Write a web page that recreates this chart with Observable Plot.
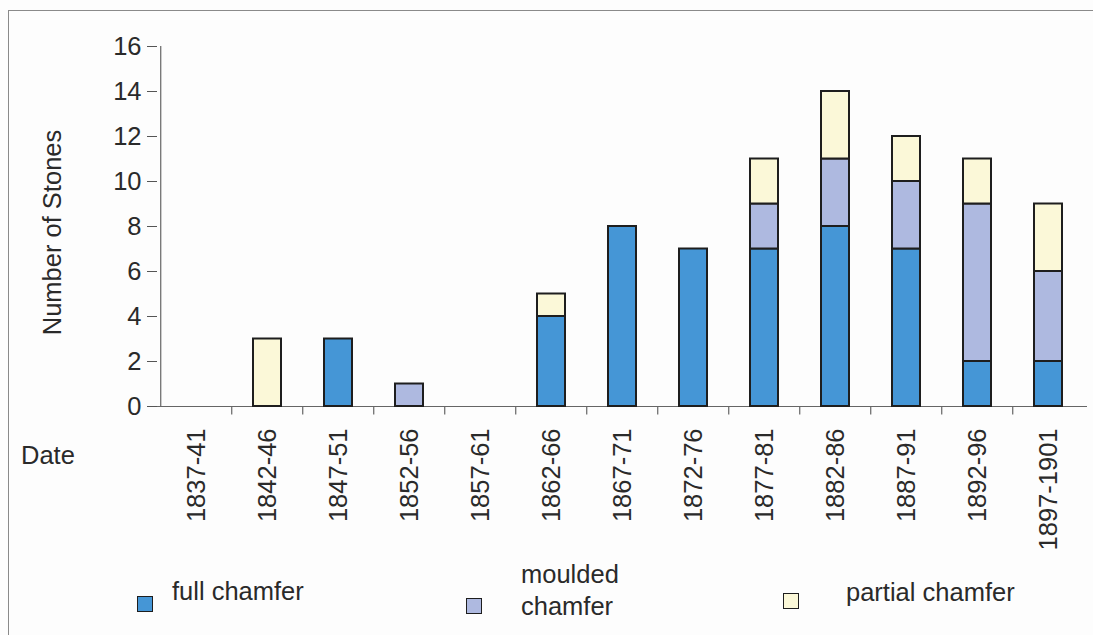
<!DOCTYPE html>
<html>
<head>
<meta charset="utf-8">
<script src="https://cdn.jsdelivr.net/npm/d3@7"></script>
<script src="https://cdn.jsdelivr.net/npm/@observablehq/plot@0.6"></script>
<style>
  html, body { margin: 0; padding: 0; background: #fdfdfd; }
  #wrap { position: relative; width: 1093px; height: 635px; font-family: "Liberation Sans", Arial, sans-serif; color: #2a2a2a; overflow: hidden; }
  #border { position: absolute; left: 8px; top: 10px; width: 1100px; height: 700px; border-left: 1.5px solid #8a8a8a; border-top: 1.5px solid #8a8a8a; }
  #chart { position: absolute; left: 0; top: 0; }
  .lbl { position: absolute; font-size: 25.5px; line-height: 1; white-space: nowrap; }
  .sw { position: absolute; width: 14px; height: 14px; border: 1.5px solid #1e1e1e; }
</style>
</head>
<body>
<div id="wrap">
  <div id="border"></div>
  <div id="chart"></div>
  <div class="lbl" style="left:21px; top:443px;">Date</div>
  <div id="legend"></div>
</div>
<script>
const periods = ["1837-41","1842-46","1847-51","1852-56","1857-61","1862-66","1867-71","1872-76","1877-81","1882-86","1887-91","1892-96","1897-1901"];
const fullChamfer    = [0, 0, 3, 0, 0, 4, 8, 7, 7, 8, 7, 2, 2];
const mouldedChamfer = [0, 0, 0, 1, 0, 0, 0, 0, 2, 3, 3, 7, 4];
const partialChamfer = [0, 3, 0, 0, 0, 1, 0, 0, 2, 3, 2, 2, 3];
const seriesNames  = ["full chamfer", "moulded chamfer", "partial chamfer"];
const seriesColors = ["#4596d6", "#aeb9e0", "#fbf8d8"];
const yTicks = [0, 2, 4, 6, 8, 10, 12, 14, 16];

const seriesValues = [fullChamfer, mouldedChamfer, partialChamfer];
const rows = [];
periods.forEach((p, i) => {
  seriesNames.forEach((s, k) => {
    if (seriesValues[k][i] > 0) rows.push({period: p, type: s, count: seriesValues[k][i]});
  });
});

const W = 1093, H = 562;
const mL = 157, mR = 6, mT = 46, mB = 156;
const step = (W - mL - mR) / periods.length;

const plot = Plot.plot({
  width: W,
  height: H,
  marginLeft: mL,
  marginRight: mR,
  marginTop: mT,
  marginBottom: mB,
  style: {fontFamily: "Liberation Sans, Arial, sans-serif", fontSize: "25px", color: "#2a2a2a", background: "transparent"},
  x: {domain: periods, paddingInner: 0.6, paddingOuter: 0.3, label: null},
  y: {domain: [0, 16], label: null},
  color: {domain: seriesNames, range: seriesColors},
  marks: [
    Plot.axisY({ticks: yTicks, tickSize: 10, tickPadding: 6, fontSize: 25.5, label: null, stroke: "#555"}),
    Plot.axisX({tickSize: 0, tickPadding: 22, tickRotate: -90, fontSize: 25.5, label: null}),
    Plot.ruleX([periods[0]], {dx: -step / 2, y1: 0, y2: 16, stroke: "#666", strokeWidth: 1.2}),
    Plot.ruleX(periods.slice(1), {dx: -step / 2, y1: 0, y2: -0.38, stroke: "#666", strokeWidth: 1.2, clip: false}),
    Plot.ruleY([0], {stroke: "#666", strokeWidth: 1.2}),
    Plot.barY(rows, {x: "period", y: "count", fill: "type", z: "type", order: seriesNames, stroke: "#1e1e1e", strokeWidth: 2}),
    Plot.text(["Number of Stones"], {frameAnchor: "left", textAnchor: "middle", rotate: -90, dx: -105, dy: 6, fontSize: 25.5, text: d => d})
  ]
});
document.getElementById("chart").appendChild(plot);

// legend (HTML, below the SVG)
const legend = document.getElementById("legend");
const swPos = [[137, 596], [466, 598], [783, 593]];
seriesNames.forEach((s, k) => {
  const sw = document.createElement("div");
  sw.className = "sw";
  sw.style.left = swPos[k][0] + "px";
  sw.style.top = swPos[k][1] + "px";
  sw.style.background = seriesColors[k];
  legend.appendChild(sw);
});
const legendTexts = [
  {t: "full chamfer", l: 172, top: 579},
  {t: "moulded", l: 521, top: 562},
  {t: "chamfer", l: 521, top: 594},
  {t: "partial chamfer", l: 846, top: 580}
];
legendTexts.forEach(d => {
  const el = document.createElement("div");
  el.className = "lbl";
  el.textContent = d.t;
  el.style.left = d.l + "px";
  el.style.top = d.top + "px";
  legend.appendChild(el);
});
</script>
</body>
</html>
